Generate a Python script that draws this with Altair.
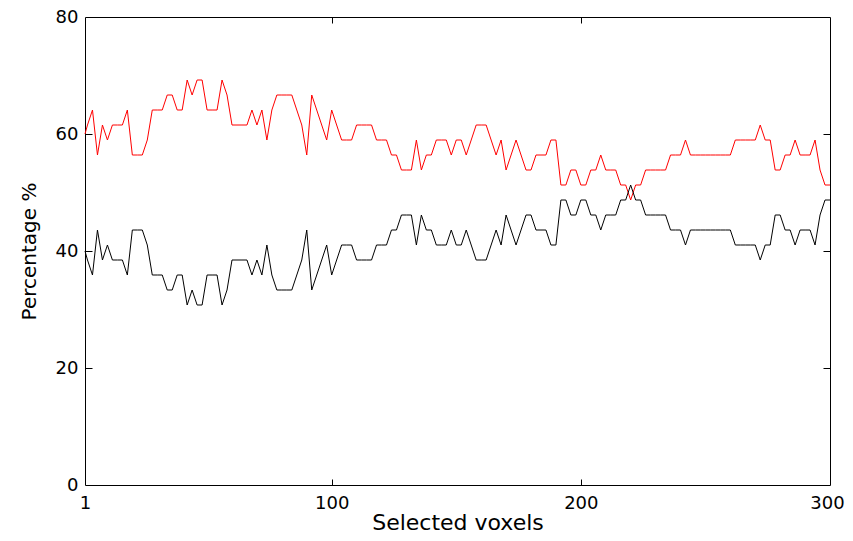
import altair as alt
import pandas as pd

# Number of selected voxels (first point, then every second voxel)
voxels = [1] + list(range(2, 301, 2))

# Correct classifications out of 39, red series
red_counts = [
    24, 25, 22, 24, 23, 24, 24, 24, 25, 22,
    22, 22, 23, 25, 25, 25, 26, 26, 25, 25,
    27, 26, 27, 27, 25, 25, 25, 27, 26, 24,
    24, 24, 24, 25, 24, 25, 23, 25, 26, 26,
    26, 26, 25, 24, 22, 26, 25, 24, 23, 25,
    24, 23, 23, 23, 24, 24, 24, 24, 23, 23,
    23, 22, 22, 21, 21, 21, 23, 21, 22, 22,
    23, 23, 23, 22, 23, 23, 22, 23, 24, 24,
    24, 23, 22, 23, 21, 22, 23, 22, 21, 21,
    22, 22, 22, 23, 23, 20, 20, 21, 21, 20,
    20, 21, 21, 22, 21, 21, 21, 20, 20, 19,
    20, 20, 21, 21, 21, 21, 21, 22, 22, 22,
    23, 22, 22, 22, 22, 22, 22, 22, 22, 22,
    23, 23, 23, 23, 23, 24, 23, 23, 21, 21,
    22, 22, 23, 22, 22, 22, 23, 21, 20, 20,
]

# Black series, counts out of 39
black_counts = [
    15, 14, 17, 15, 16, 15, 15, 15, 14, 17,
    17, 17, 16, 14, 14, 14, 13, 13, 14, 14,
    12, 13, 12, 12, 14, 14, 14, 12, 13, 15,
    15, 15, 15, 14, 15, 14, 16, 14, 13, 13,
    13, 13, 14, 15, 17, 13, 14, 15, 16, 14,
    15, 16, 16, 16, 15, 15, 15, 15, 16, 16,
    16, 17, 17, 18, 18, 18, 16, 18, 17, 17,
    16, 16, 16, 17, 16, 16, 17, 16, 15, 15,
    15, 16, 17, 16, 18, 17, 16, 17, 18, 18,
    17, 17, 17, 16, 16, 19, 19, 18, 18, 19,
    19, 18, 18, 17, 18, 18, 18, 19, 19, 20,
    19, 19, 18, 18, 18, 18, 18, 17, 17, 17,
    16, 17, 17, 17, 17, 17, 17, 17, 17, 17,
    16, 16, 16, 16, 16, 15, 16, 16, 18, 18,
    17, 17, 16, 17, 17, 17, 16, 18, 19, 19,
]

red_first = 60.0
black_first = 40.0
TOTAL = 39

red_pct = [red_first] + [c * 100.0 / TOTAL for c in red_counts]
black_pct = [black_first] + [c * 100.0 / TOTAL for c in black_counts]

x_ticks = [1, 100, 200, 300]
y_ticks = [0, 20, 40, 60, 80]
x_inner_ticks = [100, 200]
y_inner_ticks = [20, 40, 60]

df = pd.DataFrame({"x": voxels, "red": red_pct, "black": black_pct})

FONT = "DejaVu Sans"
xscale = alt.Scale(domain=[1, 300], nice=False, zero=False)
yscale = alt.Scale(domain=[0, 80], nice=False, zero=False)

base = alt.Chart(df)

main = base.mark_line(color="#ff0000", strokeWidth=1).encode(
    x=alt.X("x:Q", scale=xscale, axis=alt.Axis(
        orient="bottom", values=x_ticks, ticks=False, tickSize=0, domain=False,
        grid=False, labelPadding=9, labelFont=FONT, labelFontSize=18,
        labelColor="black", labelFlush=False,
        labelOffset={"expr": "datum.value == 300 ? -3 : 0"},
        title="Selected voxels", titleFont=FONT, titleFontSize=22,
        titleFontWeight="normal", titleColor="black",
        titleX=372.5, titleY=44, titleAlign="center", titleBaseline="alphabetic")),
    y=alt.Y("red:Q", scale=yscale, axis=alt.Axis(
        orient="left", values=y_ticks, ticks=False, tickSize=0, domain=False,
        grid=False, labelPadding=7, labelFont=FONT, labelFontSize=18,
        labelColor="black", labelFlush=False,
        title="Percentage %", titleFont=FONT, titleFontSize=20,
        titleFontWeight="normal", titleColor="black", titleAngle=270,
        titleX=-50, titleY=234, titleAlign="center", titleBaseline="alphabetic")),
)

second = base.mark_line(color="#000000", strokeWidth=1).encode(
    x=alt.X("x:Q", scale=xscale, axis=alt.Axis(
        orient="bottom", offset=-6, values=x_inner_ticks, ticks=True, tickSize=6,
        tickColor="black", tickWidth=1, labels=False, domain=False, grid=False,
        title="")),
    y=alt.Y("black:Q", scale=yscale, axis=alt.Axis(
        orient="left", offset=-7, values=y_inner_ticks, ticks=True, tickSize=7,
        tickColor="black", tickWidth=1, labels=False, domain=False, grid=False,
        title="")),
)

third = base.mark_line(color="#000000", strokeWidth=1, strokeOpacity=0).encode(
    x=alt.X("x:Q", scale=xscale, axis=alt.Axis(
        orient="top", offset=-6, values=x_inner_ticks, ticks=True, tickSize=6,
        tickColor="black", tickWidth=1, labels=False, domain=False, grid=False,
        title="")),
    y=alt.Y("black:Q", scale=yscale, axis=alt.Axis(
        orient="right", offset=-7, values=y_inner_ticks, ticks=True, tickSize=7,
        tickColor="black", tickWidth=1, labels=False, domain=False, grid=False,
        title="")),
)

chart = alt.layer(main, second, third).resolve_axis(
    x="independent", y="independent"
).properties(
    width=745, height=468,
    autosize=alt.AutoSizeParams(type="none"),
    padding={"left": 77, "top": 9, "right": 15, "bottom": 46},
).configure(
    background="white",
    view=alt.ViewConfig(stroke="black", strokeWidth=1),
)

chart.save("out.html", embed_options={"renderer": "svg", "actions": False})
